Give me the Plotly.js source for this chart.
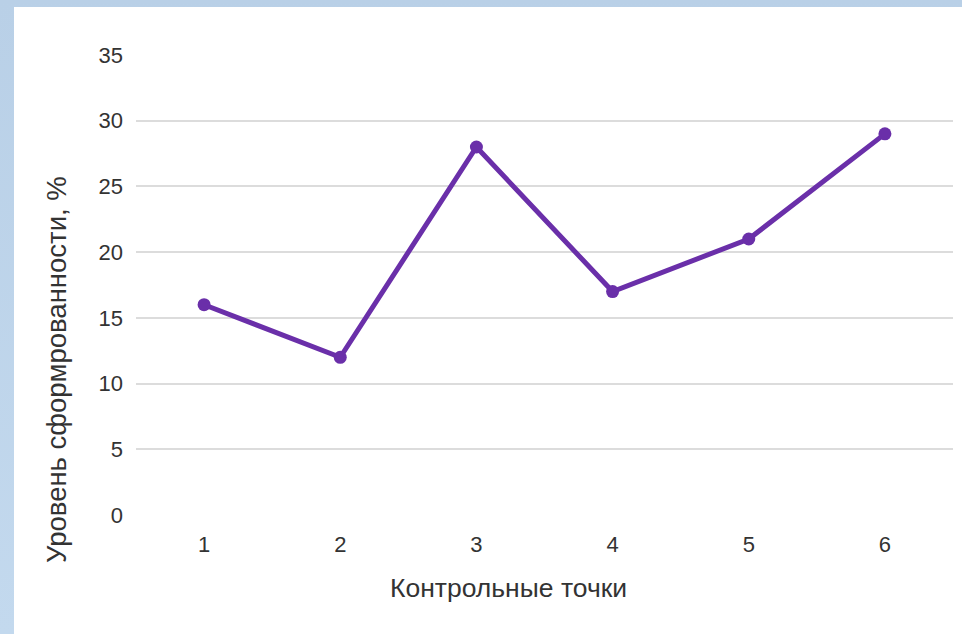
<!DOCTYPE html>
<html>
<head>
<meta charset="utf-8">
<script src="https://cdn.plot.ly/plotly-3.0.1.min.js"></script>
<style>
html, body { margin: 0; padding: 0; }
body {
  width: 962px; height: 634px; overflow: hidden;
  background: linear-gradient(180deg, #b9d0e7 0%, #c3d9ee 100%);
  position: relative;
}
#panel {
  position: absolute; left: 14px; top: 7px; width: 948px; height: 627px;
  background: #ffffff;
}
#chart { position: absolute; left: 0; top: 0; width: 962px; height: 634px; }
</style>
</head>
<body>
<div id="panel"></div>
<div id="chart"></div>
<script>
const categories = ["1", "2", "3", "4", "5", "6"];
const values = [16, 12, 28, 17, 21, 29];
const yTicks = [0, 5, 10, 15, 20, 25, 30, 35];
const xTitle = "Контрольные точки";
const yTitle = "Уровень сформрованности, %";

const trace = {
  x: categories,
  y: values,
  type: "scatter",
  mode: "lines+markers",
  line: { color: "#6a2fa9", width: 5 },
  marker: { color: "#6a2fa9", size: 13 },
  hoverinfo: "skip"
};

const fam = "Liberation Sans, Arial, sans-serif";
const txt = "#333333";

const layout = {
  width: 962, height: 634,
  paper_bgcolor: "rgba(0,0,0,0)",
  plot_bgcolor: "rgba(0,0,0,0)",
  margin: { l: 136, r: 9, t: 55, b: 119 },
  showlegend: false,
  font: { family: fam, color: txt },
  xaxis: {
    type: "category",
    range: [-0.5, 5.5],
    showgrid: false,
    zeroline: false,
    showline: false,
    ticks: "",
    tickfont: { family: fam, size: 22, color: txt },
    ticklabelstandoff: 14
  },
  yaxis: {
    range: [0, 35],
    tickvals: yTicks,
    ticktext: yTicks.map(String),
    showgrid: true,
    gridcolor: "#dcdcdc",
    gridwidth: 2,
    zeroline: false,
    showline: false,
    ticks: "",
    tickfont: { family: fam, size: 22, color: txt },
    ticklabelstandoff: 12
  },
  annotations: [
    {
      text: xTitle, xref: "paper", yref: "paper",
      x: 0.4565, y: -0.1587, xanchor: "center", yanchor: "middle",
      showarrow: false, font: { family: fam, size: 26.5, color: txt }
    },
    {
      text: yTitle, xref: "paper", yref: "paper",
      x: -0.0967, y: 0.3174, xanchor: "center", yanchor: "middle",
      textangle: -90,
      showarrow: false, font: { family: fam, size: 27.5, color: txt }
    }
  ]
};

Plotly.newPlot("chart", [trace], layout, { displayModeBar: false, staticPlot: true });
</script>
</body>
</html>
